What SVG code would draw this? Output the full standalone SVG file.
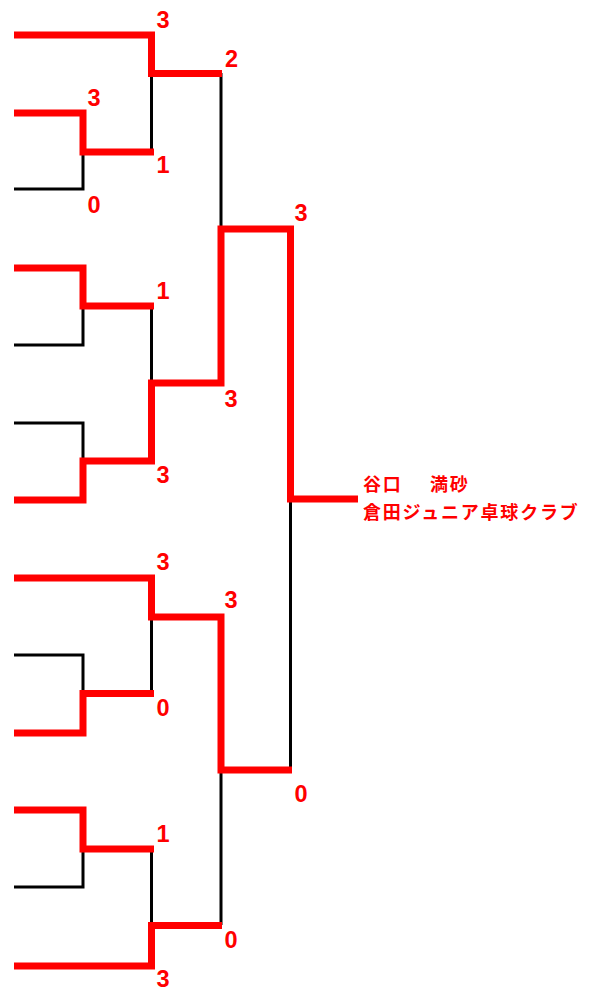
<svg xmlns="http://www.w3.org/2000/svg" width="593" height="991" viewBox="0 0 593 991">
<style>
.bk{fill:none;stroke:#000;stroke-width:3;stroke-linejoin:miter;stroke-linecap:butt}
.rd{fill:none;stroke:#FF0000;stroke-width:7;stroke-linejoin:miter;stroke-linecap:butt}
.sc{font-family:"Liberation Sans",Arial,sans-serif;font-weight:bold;font-size:23.5px;fill:#FF0000}
.nm{font-family:"Noto Sans CJK JP","Noto Sans CJK SC",sans-serif;font-weight:bold;font-size:18px;fill:#FF0000;letter-spacing:1.8px}
</style>
<rect width="593" height="991" fill="#fff"/>
<g id="connectors">
<g id="losers">
<path class="bk" d="M14 189 H83 V152"/>
<path class="bk" d="M151.5 73 V152"/>
<path class="bk" d="M14 345 H83 V306"/>
<path class="bk" d="M14 423 H83 V461"/>
<path class="bk" d="M151.5 306 V383"/>
<path class="bk" d="M221 73 V229"/>
<path class="bk" d="M290.5 499 V770"/>
<path class="bk" d="M14 655 H83 V693"/>
<path class="bk" d="M151.5 617 V693"/>
<path class="bk" d="M14 887 H83 V849"/>
<path class="bk" d="M151.5 849 V925"/>
<path class="bk" d="M221 770 V925"/>
</g>
<g id="winners">
<path class="rd" d="M14 35 H151.5 V73.5 H222"/>
<path class="rd" d="M14 113 H83 V152 H154"/>
<path class="rd" d="M14 268 H83 V306 H154"/>
<path class="rd" d="M14 500 H83 V461 H151.5 V383 H221 V229 H290.5 V499 H358"/>
<path class="rd" d="M14 578 H151.5 V617 H221 V770 H292"/>
<path class="rd" d="M14 733 H83 V693.5 H154"/>
<path class="rd" d="M14 810 H83 V849 H154"/>
<path class="rd" d="M14 966 H151.5 V925.5 H222"/>
</g>
</g>
<g id="scores">
<text class="sc" x="156.5" y="27.5">3</text>
<text class="sc" x="225" y="67">2</text>
<text class="sc" x="87.5" y="106">3</text>
<text class="sc" x="156.5" y="173">1</text>
<text class="sc" x="87.5" y="213">0</text>
<text class="sc" x="294.5" y="221">3</text>
<text class="sc" x="156.5" y="299">1</text>
<text class="sc" x="224.5" y="407">3</text>
<text class="sc" x="156.5" y="483">3</text>
<text class="sc" x="156.5" y="570">3</text>
<text class="sc" x="224.5" y="608">3</text>
<text class="sc" x="156.5" y="716">0</text>
<text class="sc" x="294.5" y="802">0</text>
<text class="sc" x="156.5" y="842">1</text>
<text class="sc" x="224.5" y="948">0</text>
<text class="sc" x="156.5" y="987">3</text>
</g>
<g id="champion">
<text class="nm" x="363" y="491">谷口　<tspan x="430">満砂</tspan></text>
<text class="nm" x="363" y="519">倉田ジュニア卓球クラブ</text>
</g>
</svg>
